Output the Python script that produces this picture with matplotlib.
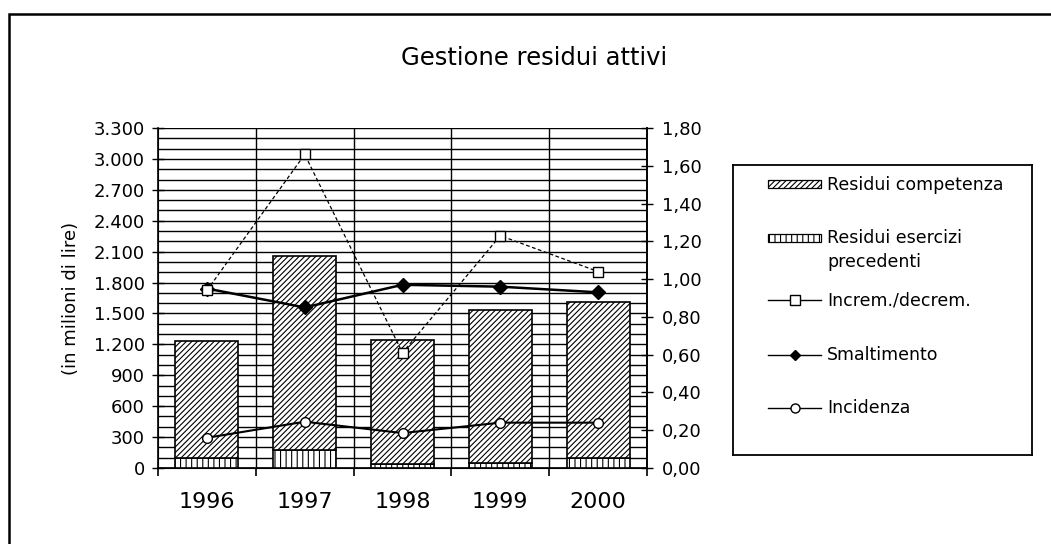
import matplotlib
matplotlib.use("Agg")
import matplotlib.pyplot as plt
import numpy as np
from matplotlib.patches import Rectangle
from matplotlib.lines import Line2D
from matplotlib.ticker import FuncFormatter, MultipleLocator

years = ["1996", "1997", "1998", "1999", "2000"]
residui_precedenti = [100, 175, 35, 45, 95]
residui_competenza_tot = [1230, 2060, 1240, 1530, 1615]
residui_competenza = [t - p for t, p in zip(residui_competenza_tot, residui_precedenti)]
increm_decrem = [0.94, 1.66, 0.61, 1.23, 1.04]
smaltimento = [0.95, 0.85, 0.97, 0.96, 0.93]
incidenza = [0.16, 0.245, 0.185, 0.24, 0.24]

left_ticks = [0, 300, 600, 900, 1200, 1500, 1800, 2100, 2400, 2700, 3000, 3300]
right_ticks = [0.0, 0.2, 0.4, 0.6, 0.8, 1.0, 1.2, 1.4, 1.6, 1.8]

plt.rcParams['font.family'] = ['DejaVu Sans']
plt.rcParams['hatch.linewidth'] = 0.8

W, H = 1051, 544
fig = plt.figure(figsize=(W / 100, H / 100), dpi=100)


def fx(px):
    return px / W


def fy(py):
    return 1 - py / H


# chart border (right and bottom edges fall outside the picture)
fig.patches.append(Rectangle((fx(9), -0.05), 1.2, fy(14) + 0.05,
                             transform=fig.transFigure, fill=False,
                             edgecolor='black', linewidth=1.8))

ax = fig.add_axes([fx(158), fy(468), fx(647) - fx(158), fy(128) - fy(468)])
x = np.arange(len(years))
w = 0.645
ax.bar(x, residui_precedenti, width=w, color='white', edgecolor='black',
       hatch='|||', linewidth=1.2, zorder=3)
ax.bar(x, residui_competenza, width=w, bottom=residui_precedenti, color='white',
       edgecolor='black', hatch='//////', linewidth=1.2, zorder=3)

ax.set_xlim(-0.5, 4.5)
ax.set_ylim(0, 3300)
ax.set_yticks(left_ticks)
ax.yaxis.set_minor_locator(MultipleLocator(100))
ax.yaxis.set_major_formatter(FuncFormatter(lambda v, p: f"{int(v):,}".replace(",", ".")))
ax.grid(True, axis='y', which='both', color='black', linewidth=1.0)
ax.set_axisbelow(True)
ax.set_xticks(x)
ax.set_xticklabels(years, fontsize=16)
ax.set_xticks(np.arange(-0.5, 5.0, 1.0), minor=True)
ax.tick_params(axis='x', which='major', length=0, pad=17)
ax.tick_params(axis='x', which='minor', length=6, direction='out', width=1.2)
for xb in np.arange(0.5, 4.5, 1.0):
    ax.axvline(xb, color='black', linewidth=1.0, zorder=1)
ax.tick_params(axis='y', which='major', direction='inout', length=9, labelsize=13,
               width=1.0, pad=5)
ax.tick_params(axis='y', which='minor', length=0)
ax.set_ylabel("(in milioni di lire)", fontsize=13, labelpad=10)
ax.spines['top'].set_visible(False)
for s in ['left', 'bottom', 'right']:
    ax.spines[s].set_linewidth(1.2)

ax2 = ax.twinx()
ax2.set_ylim(0, 1.8)
ax2.set_yticks(right_ticks)
ax2.yaxis.set_major_formatter(FuncFormatter(lambda v, p: f"{v:.2f}".replace(".", ",")))
ax2.tick_params(axis='y', direction='inout', length=9, labelsize=13, width=1.0, pad=6)
ax2.spines['top'].set_visible(False)
ax2.spines['right'].set_linewidth(1.2)
ax2.plot(x, smaltimento, color='black', linewidth=1.8, marker='D', markersize=7,
         markerfacecolor='black', zorder=5)
ax2.plot(x, increm_decrem, color='black', linewidth=0.9, linestyle=(0, (3, 2)), marker='s',
         markersize=7.5, markerfacecolor='white', markeredgecolor='black', zorder=6)
ax2.plot(x, incidenza, color='black', linewidth=1.5, marker='o', markersize=7,
         markerfacecolor='white', markeredgecolor='black', zorder=6)

fig.text(fx(534), fy(58), "Gestione residui attivi", ha='center', va='center', fontsize=17.5)

# legend box drawn in figure coordinates
lax = fig.add_axes([fx(733), fy(455), fx(1032) - fx(733), fy(165) - fy(455)])
lax.set_xlim(733, 1032)
lax.set_ylim(455, 165)
lax.set_xticks([])
lax.set_yticks([])
for s in lax.spines.values():
    s.set_linewidth(1.3)
    s.set_color('black')

hx0, hx1, tx = 768, 821, 827
lax.add_patch(Rectangle((hx0, 180), hx1 - hx0, 8, facecolor='white', edgecolor='black',
                        hatch='//////', linewidth=0.9))
lax.add_patch(Rectangle((hx0, 234), hx1 - hx0, 8, facecolor='white', edgecolor='black',
                        hatch='|||', linewidth=0.9))
lax.add_line(Line2D([hx0, hx1], [300, 300], color='black', linewidth=1.0))
lax.plot([(hx0 + hx1) / 2], [300], marker='s', markersize=7, markerfacecolor='white',
         markeredgecolor='black')
lax.add_line(Line2D([hx0, hx1], [355, 355], color='black', linewidth=1.0))
lax.plot([(hx0 + hx1) / 2], [355], marker='D', markersize=5.5, markerfacecolor='black',
         markeredgecolor='black')
lax.add_line(Line2D([hx0, hx1], [408, 408], color='black', linewidth=1.0))
lax.plot([(hx0 + hx1) / 2], [408], marker='o', markersize=6.5, markerfacecolor='white',
         markeredgecolor='black')

labels = ["Residui competenza", "Residui esercizi\nprecedenti", "Increm./decrem.",
          "Smaltimento", "Incidenza"]
lfs = 12.5
lax.text(tx, 185, labels[0], va='center', ha='left', fontsize=lfs)
lax.text(tx, 229, labels[1], va='top', ha='left', fontsize=lfs, linespacing=1.45)
lax.text(tx, 300, labels[2], va='center', ha='left', fontsize=lfs)
lax.text(tx, 355, labels[3], va='center', ha='left', fontsize=lfs)
lax.text(tx, 408, labels[4], va='center', ha='left', fontsize=lfs)

fig.savefig("out.png", dpi=100)
